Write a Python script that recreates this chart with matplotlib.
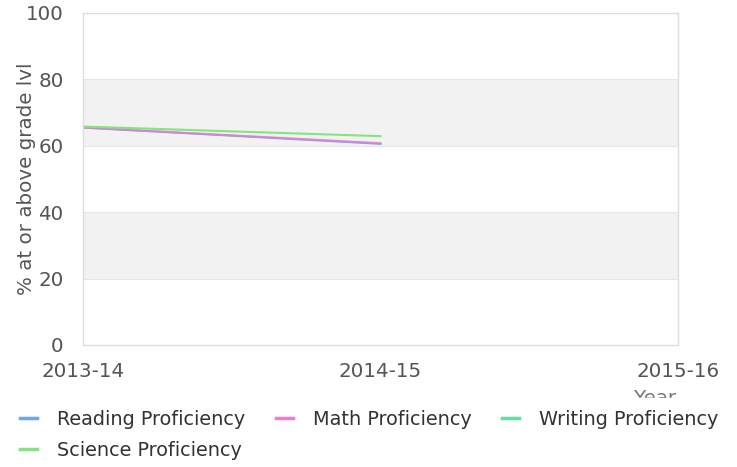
import matplotlib
matplotlib.use("Agg")
import matplotlib.pyplot as plt

# 数据
years = ["2013-14", "2014-15", "2015-16"]
reading = [65.5, 60.6]
math = [65.5, 60.8]
writing = [65.6, 60.7]
science = [65.8, 62.9]

colors = {
    "Reading Proficiency": "#6aa8f0",
    "Math Proficiency": "#f07ec4",
    "Writing Proficiency": "#5fe0a4",
    "Science Proficiency": "#82e67c",
}
FS = 14.3
TXT = "#555555"

fig = plt.figure(figsize=(7.37, 4.67), dpi=100)
ax = fig.add_axes([83 / 737, 1 - 345 / 467, (678 - 83) / 737, (345 - 13) / 467])

# 灰色条带
for lo, hi in [(20, 40), (60, 80)]:
    ax.axhspan(lo, hi, color="#f2f2f2", zorder=0, lw=0)
for y in [20, 40, 60, 80]:
    ax.axhline(y, color="#e6e6e6", lw=0.8, zorder=0.5)

x = list(range(len(reading)))
ax.plot(x, reading, color=colors["Reading Proficiency"], lw=1.5)
ax.plot(x, math, color=colors["Math Proficiency"], lw=1.5, alpha=0.8)
ax.plot(x, writing, color=colors["Writing Proficiency"], lw=1.5, alpha=0.0)
ax.plot(x, science, color=colors["Science Proficiency"], lw=1.5)

ax.set_xlim(0, 2)
ax.set_ylim(0, 100)
ax.set_xticks(range(len(years)))
ax.set_xticklabels(years)
ax.set_yticks([0, 20, 40, 60, 80, 100])
ax.tick_params(length=0, labelsize=FS, colors=TXT)
ax.tick_params(axis="y", pad=14)
ax.tick_params(axis="x", pad=12)
for s in ax.spines.values():
    s.set_color("#dddddd")
    s.set_linewidth(1)
ax.set_ylabel("% at or above grade lvl", fontsize=FS, color=TXT)
ax.yaxis.set_label_coords((36 - 83) / 595, 0.5)

# Year 被图例挡住一半
fig.text(655 / 737, 1 - 389 / 467, "Year", fontsize=FS, color="#777777", ha="center", va="top", zorder=1)

order = ["Reading Proficiency", "Science Proficiency", "Math Proficiency", "Writing Proficiency"]
handles = [plt.Line2D([], [], color=colors[k], lw=2.5) for k in order]
leg = fig.legend(handles, order, ncol=3, loc="upper left", bbox_to_anchor=(8 / 737, 1 - 398 / 467),
                 frameon=True, fontsize=13.9, handlelength=0.88, handletextpad=1.03,
                 columnspacing=1.6, labelspacing=0.62, borderaxespad=0, borderpad=0.62,
                 fancybox=False)
leg.set_zorder(5)
leg.get_frame().set_facecolor("white")
leg.get_frame().set_edgecolor("white")
leg.get_frame().set_alpha(1)
for t in leg.get_texts():
    t.set_color("#333333")

fig.savefig("out.png", dpi=100)
